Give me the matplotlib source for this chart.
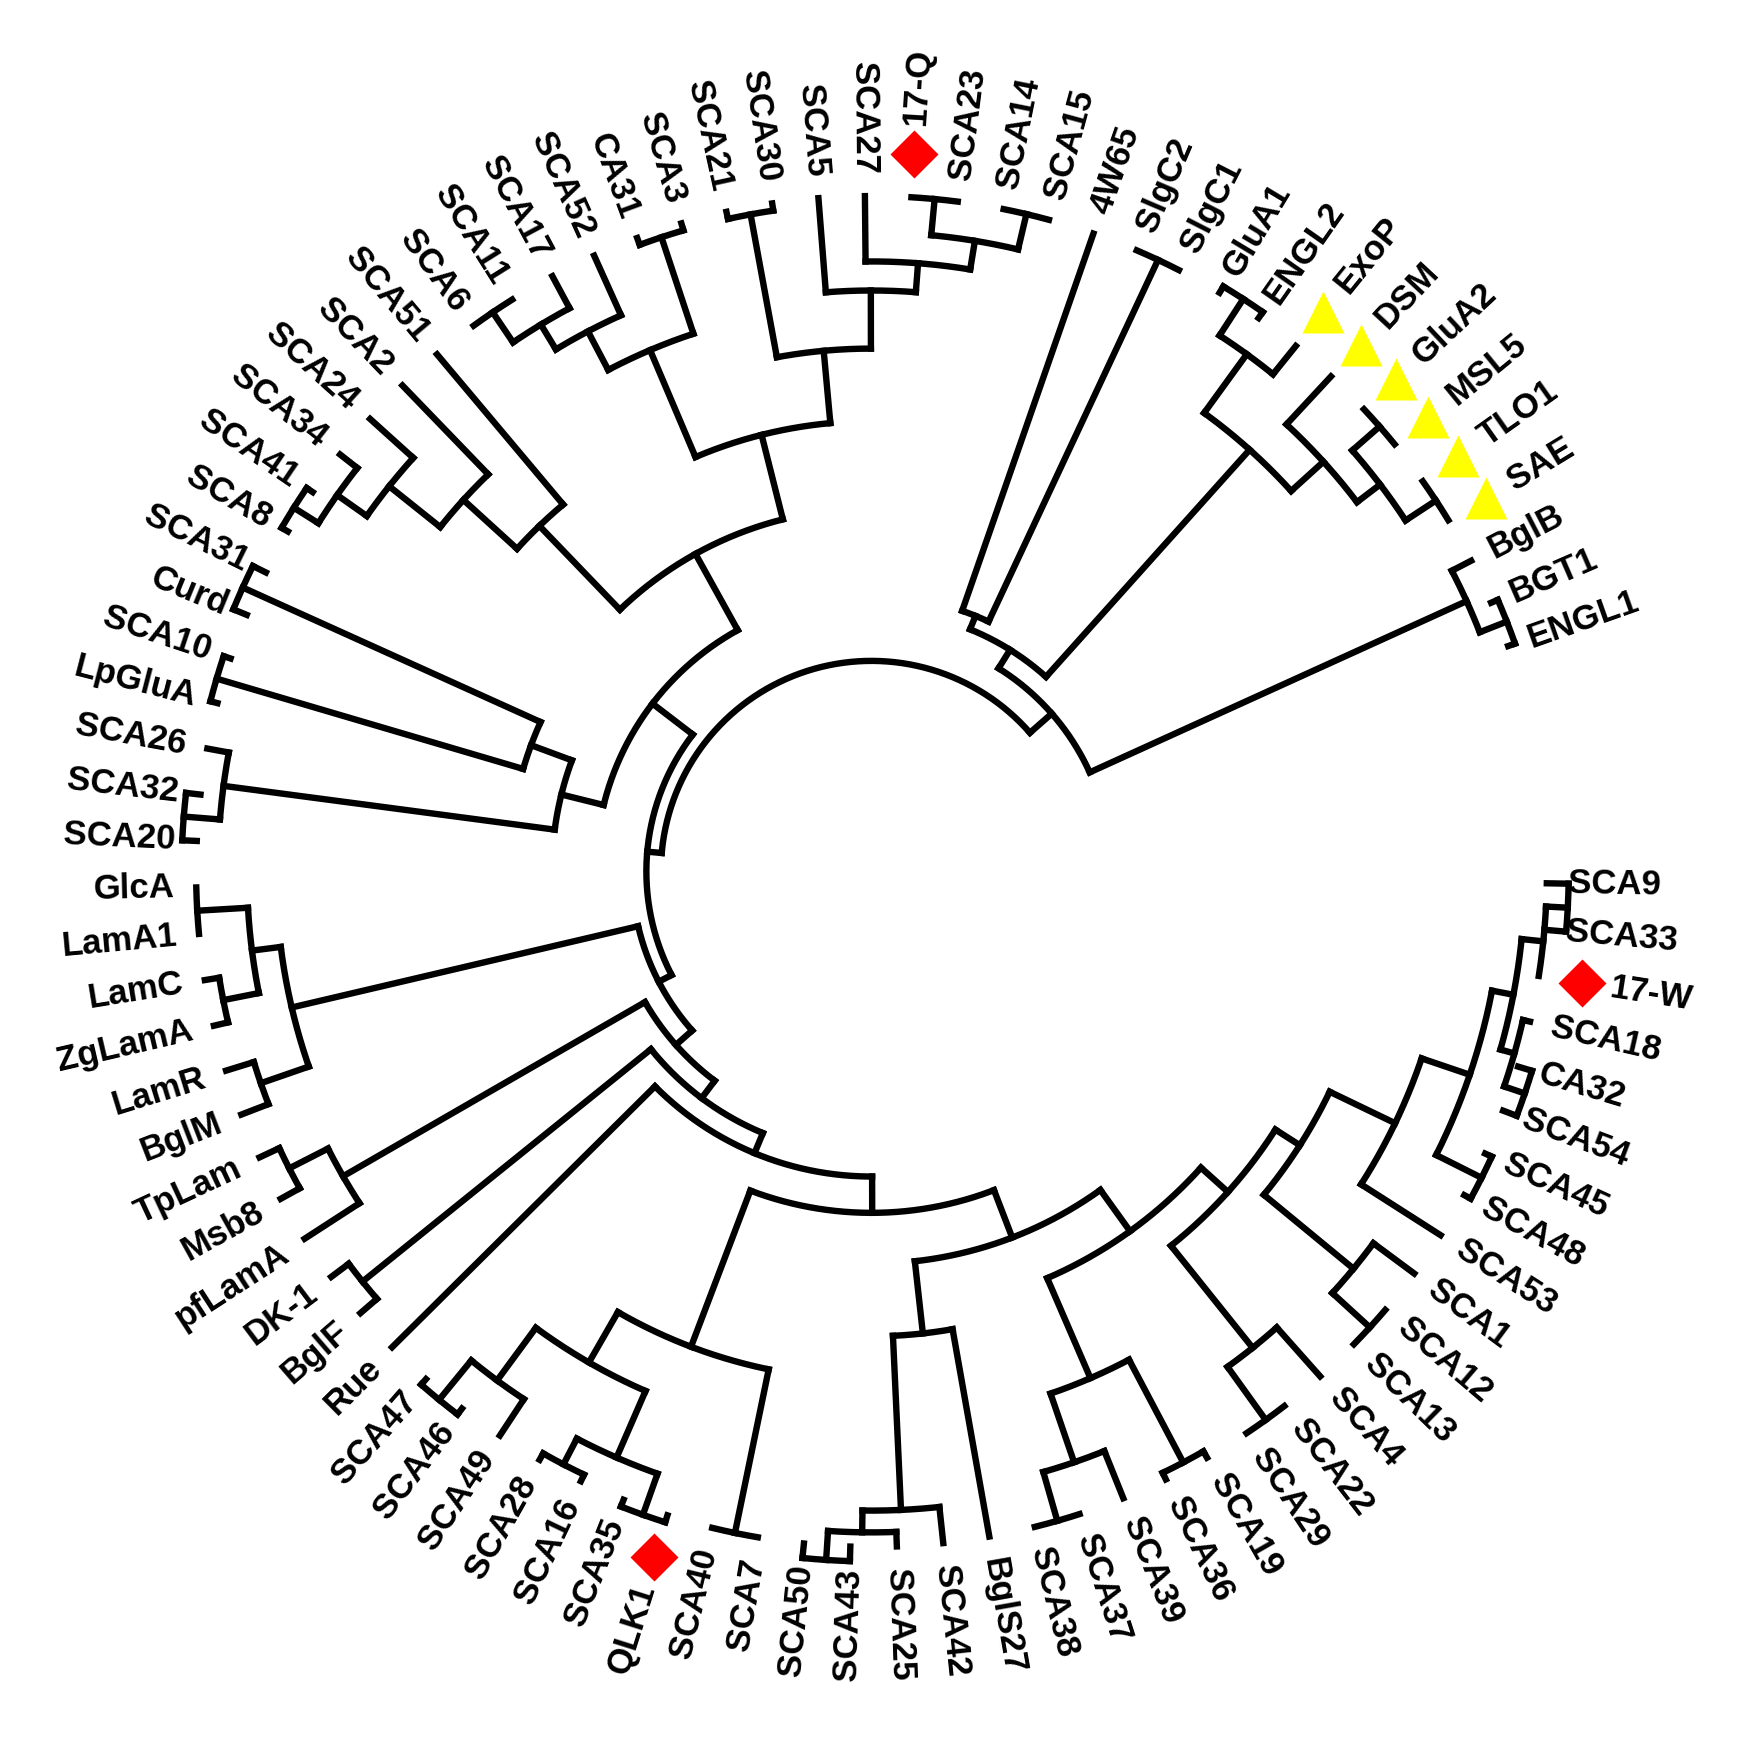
import numpy as np
import matplotlib
matplotlib.use("Agg")
import matplotlib.pyplot as plt

plt.rcParams['font.family'] = ['Liberation Sans', 'DejaVu Sans']

# ---- data: tree topology (clockwise order), node radii ----
GluAgrp = (0.78, [(0.88, [(0.94, ['GluA1', 'ENGL2']), 'ExoP']),
                  (0.84, ['DSM', (0.88, [(0.93, ['GluA2', 'MSL5']), (0.93, ['TLO1', 'SAE'])])])])
ENGLgrp = (0.90, ['BglB', (0.94, ['BGT1', 'ENGL1'])])
RT = (0.33, [(0.36, [(0.38, ['4W65', (0.93, ['SlgC2', 'SlgC1'])]), GluAgrp]), ENGLgrp])

RB = (0.70, [(0.80, [(0.87, [(0.90, [(0.93, [(0.96, ['SCA9', 'SCA33']), '17-W']),
                                     (0.92, ['SCA18', (0.95, ['CA32', 'SCA54'])])]),
                             (0.94, ['SCA45', 'SCA48'])]), 'SCA53']),
             (0.86, ['SCA1', (0.93, ['SCA12', 'SCA13'])])])
SCA4grp = (0.84, ['SCA4', (0.93, ['SCA22', 'SCA29'])])
SCA19grp = (0.76, [(0.92, ['SCA19', 'SCA36']), (0.86, ['SCA39', (0.93, ['SCA37', 'SCA38'])])])
BglS27grp = (0.64, ['BglS27', (0.88, ['SCA42', (0.91, ['SCA25', (0.95, ['SCA43', 'SCA50'])])])])
SCA7grp = (0.70, [(0.93, ['SCA7', 'SCA40']),
                  (0.78, [(0.88, [(0.94, ['QLK1', 'SCA35']), (0.92, ['SCA16', 'SCA28'])]),
                          (0.87, ['SCA49', (0.94, ['SCA46', 'SCA47'])])])])
DKgrp = (0.90, ['BglF', 'DK-1'])
pfLamgrp = (0.84, ['pfLamA', (0.90, ['Msb8', 'TpLam'])])
Glcgrp = (0.82, [(0.89, ['BglM', 'LamR']), (0.86, [(0.91, ['ZgLamA', 'LamC']), (0.93, ['LamA1', 'GlcA'])])])

X7 = (0.66, [RB, SCA4grp])
X6 = (0.61, [X7, SCA19grp])
X5 = (0.54, [X6, BglS27grp])
X4 = (0.47, [X5, SCA7grp])
X3 = (0.42, [X4, 'Rue'])
X2 = (0.39, [X3, DKgrp])
X1 = (0.36, [X2, pfLamgrp])
LO = (0.33, [X1, Glcgrp])

UL2 = (0.44, [(0.90, [(0.95, ['SCA20', 'SCA32']), 'SCA26']),
              (0.50, [(0.94, ['LpGluA', 'SCA10']), (0.95, ['Curd', 'SCA31'])])])
TL1 = (0.78, [(0.84, [(0.88, [(0.93, ['SCA6', 'SCA11']), 'SCA17']), 'SCA52']), (0.92, ['CA31', 'SCA3'])])
TR1 = (0.72, [(0.92, ['SCA21', 'SCA30']),
              (0.80, ['SCA5', (0.84, ['SCA27', (0.88, [(0.93, ['17-Q', 'SCA23']), (0.93, ['SCA14', 'SCA15'])])])])])
Top = (0.62, [TL1, TR1])
T = (0.50, [(0.66, [(0.76, [(0.85, [(0.90, [(0.94, ['SCA8', 'SCA41']), 'SCA34']), 'SCA24']), 'SCA2']), 'SCA51']), Top])
UL = (0.38, [UL2, T])
L = (0.31, [LO, UL])
ROOT = (0.29, [L, RT])

red_marked = ['17-Q', '17-W', 'QLK1']
yellow_marked = ['ExoP', 'DSM', 'GluA2', 'MSL5', 'TLO1', 'SAE']

start_angle = -1.0
gap_deg = 20.5
tip_r = 0.93

# ---- layout ----
leaves = []
def collect(n):
    if isinstance(n, str):
        leaves.append(n)
    else:
        for c in n[1]:
            collect(c)
collect(ROOT)
N = len(leaves)
step = (360.0 - gap_deg) / (N - 1)
ang = {nm: start_angle - i * step for i, nm in enumerate(leaves)}

fig = plt.figure(figsize=(17.43, 17.43), dpi=100)
ax = fig.add_axes([0, 0, 1, 1])
ax.set_xlim(-1.2, 1.2)
ax.set_ylim(-1.2, 1.2)
ax.set_aspect('equal')
ax.axis('off')
LW = 4.6

def xy(r, t):
    t = np.deg2rad(t)
    return r * np.cos(t), r * np.sin(t)

def draw(n):
    if isinstance(n, str):
        return ang[n], tip_r
    r, ch = n
    res = [draw(c) for c in ch]
    angs = [x[0] for x in res]
    for ca, cr in res:
        x0, y0 = xy(r, ca)
        x1, y1 = xy(cr, ca)
        ax.plot([x0, x1], [y0, y1], color='black', lw=LW, solid_capstyle='projecting')
    tt = np.linspace(min(angs), max(angs), 200)
    ax.plot(*xy(r, tt), color='black', lw=LW, solid_capstyle='projecting')
    return float(np.mean(angs)), r

draw(ROOT)

for nm in leaves:
    t = ang[nm]
    lab_r = 0.96
    if nm in red_marked or nm in yellow_marked:
        mx, my = xy(0.99, t)
        if nm in red_marked:
            ax.plot(mx, my, marker='D', ms=24, color='#ff0000', mec='none')
        else:
            ax.plot(mx, my, marker='^', ms=30, color='#ffff00', mec='none')
        lab_r = 1.03
    x, y = xy(lab_r, t)
    tn = (t + 360) % 360
    if np.cos(np.deg2rad(tn)) >= 0:
        rot, ha = tn, 'left'
    else:
        rot, ha = tn + 180, 'right'
    ax.text(x, y, nm, rotation=rot, ha=ha, va='center', rotation_mode='anchor',
            fontsize=25, fontweight='bold')

fig.savefig('out.png', dpi=100, facecolor='white')
